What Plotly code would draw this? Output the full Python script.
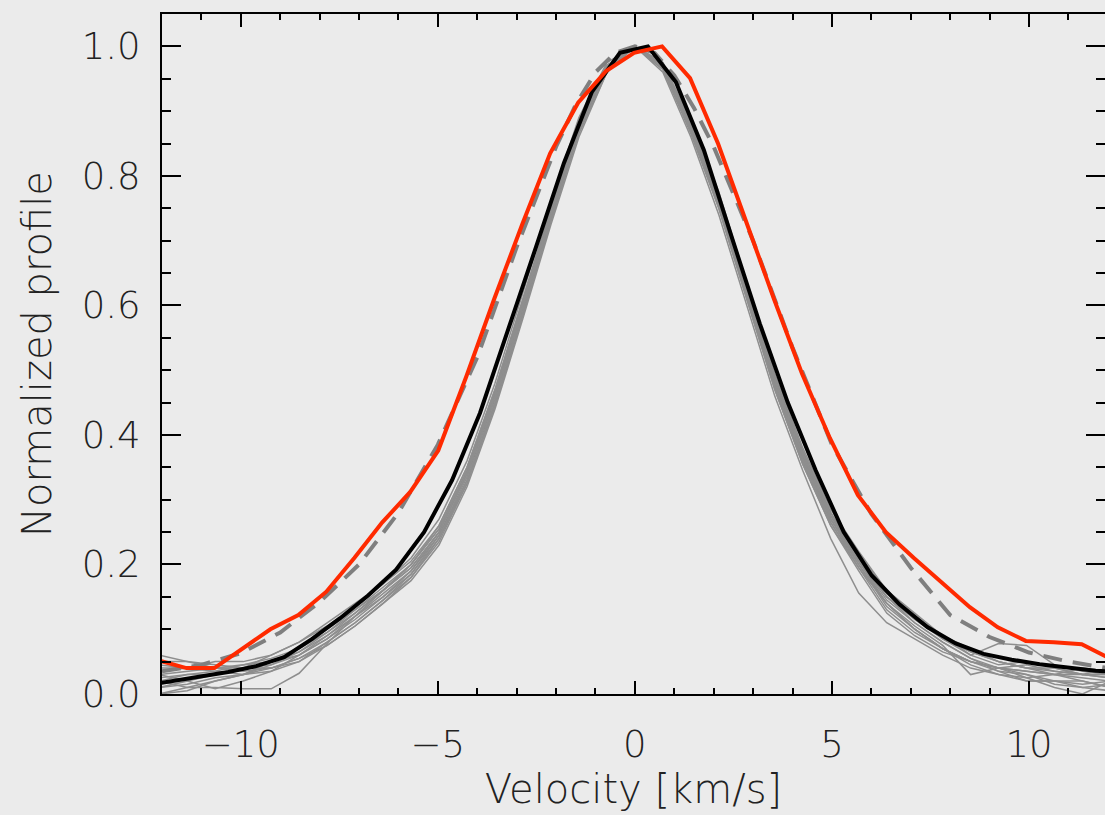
import plotly.graph_objects as go

# ---------------- data ----------------
# gray individual profiles share this velocity grid (km/s)
gray_v = [-12.07, -11.36, -10.65, -9.94, -9.23, -8.52, -7.81, -7.10, -6.39, -5.68,
          -4.97, -4.26, -3.55, -2.84, -2.13, -1.42, -0.71, 0.00, 0.71, 1.42,
          2.13, 2.84, 3.55, 4.26, 4.97, 5.68, 6.39, 7.10, 7.81, 8.52,
          9.23, 9.94, 10.65, 11.36, 12.07]

gray_1 = [0.00, 0.01, 0.02, 0.03, 0.05, 0.07, 0.10, 0.13, 0.16, 0.20, 0.26, 0.35, 0.47, 0.61, 0.75, 0.88, 0.97, 1.0, 0.97, 0.87, 0.75, 0.61, 0.47, 0.355, 0.26, 0.195, 0.14, 0.10, 0.07, 0.05, 0.04, 0.03, 0.02, 0.02, 0.01]
gray_2 = [0.04, 0.04, 0.05, 0.05, 0.06, 0.08, 0.11, 0.14, 0.17, 0.21, 0.27, 0.36, 0.48, 0.62, 0.76, 0.89, 0.975, 1.0, 0.965, 0.87, 0.755, 0.62, 0.49, 0.375, 0.28, 0.21, 0.155, 0.12, 0.09, 0.07, 0.05, 0.04, 0.04, 0.03, 0.03]
gray_3 = [0.02, 0.01, 0.01, 0.008, 0.008, 0.032, 0.078, 0.12, 0.155, 0.19, 0.245, 0.33, 0.45, 0.59, 0.735, 0.87, 0.965, 1.0, 0.97, 0.88, 0.765, 0.625, 0.485, 0.37, 0.275, 0.205, 0.14, 0.10, 0.07, 0.05, 0.035, 0.02, 0.02, 0.015, 0.02]
gray_4 = [0.03, 0.035, 0.04, 0.045, 0.05, 0.065, 0.09, 0.12, 0.15, 0.185, 0.245, 0.335, 0.455, 0.595, 0.74, 0.875, 0.97, 1.0, 0.97, 0.875, 0.76, 0.62, 0.48, 0.365, 0.27, 0.205, 0.15, 0.12, 0.09, 0.06, 0.078, 0.075, 0.045, 0.035, 0.03]
gray_5 = [0.01, 0.02, 0.03, 0.04, 0.04, 0.05, 0.08, 0.11, 0.145, 0.18, 0.24, 0.325, 0.445, 0.585, 0.73, 0.865, 0.96, 1.0, 0.96, 0.86, 0.74, 0.60, 0.46, 0.345, 0.24, 0.156, 0.11, 0.085, 0.06, 0.04, 0.03, 0.02, 0.02, 0.01, 0.015]
gray_6 = [0.05, 0.05, 0.045, 0.04, 0.05, 0.06, 0.085, 0.115, 0.15, 0.19, 0.25, 0.34, 0.46, 0.60, 0.74, 0.875, 0.97, 1.0, 0.975, 0.88, 0.77, 0.63, 0.49, 0.375, 0.28, 0.21, 0.15, 0.11, 0.08, 0.055, 0.04, 0.025, 0.01, 0.0, 0.02]
gray_7 = [0.03, 0.02, 0.008, 0.02, 0.035, 0.06, 0.09, 0.125, 0.16, 0.20, 0.255, 0.345, 0.465, 0.605, 0.745, 0.88, 0.97, 1.0, 0.97, 0.875, 0.76, 0.615, 0.475, 0.36, 0.265, 0.20, 0.14, 0.105, 0.075, 0.03, 0.04, 0.045, 0.035, 0.03, 0.025]
gray_8 = [0.02, 0.03, 0.03, 0.04, 0.06, 0.08, 0.105, 0.135, 0.17, 0.205, 0.26, 0.35, 0.47, 0.61, 0.75, 0.88, 0.97, 1.0, 0.965, 0.865, 0.75, 0.61, 0.47, 0.355, 0.26, 0.19, 0.125, 0.09, 0.065, 0.05, 0.04, 0.035, 0.03, 0.03, 0.025]
gray_9 = [0.06, 0.05, 0.04, 0.035, 0.04, 0.055, 0.08, 0.11, 0.145, 0.185, 0.24, 0.33, 0.45, 0.59, 0.735, 0.87, 0.965, 1.0, 0.97, 0.875, 0.765, 0.625, 0.485, 0.37, 0.275, 0.215, 0.16, 0.125, 0.09, 0.065, 0.05, 0.04, 0.03, 0.02, 0.01]
gray_10 = [0.0, 0.005, 0.02, 0.03, 0.04, 0.055, 0.075, 0.105, 0.14, 0.18, 0.235, 0.325, 0.445, 0.585, 0.73, 0.87, 0.965, 1.0, 0.975, 0.885, 0.775, 0.635, 0.495, 0.38, 0.285, 0.22, 0.16, 0.12, 0.085, 0.06, 0.045, 0.05, 0.04, 0.03, 0.03]
gray_11 = [0.035, 0.04, 0.04, 0.04, 0.045, 0.06, 0.085, 0.12, 0.16, 0.195, 0.25, 0.34, 0.46, 0.60, 0.745, 0.875, 0.97, 1.0, 0.965, 0.87, 0.755, 0.615, 0.475, 0.365, 0.27, 0.20, 0.135, 0.10, 0.07, 0.045, 0.03, 0.025, 0.03, 0.04, 0.035]
gray_12 = [0.01, 0.015, 0.025, 0.03, 0.045, 0.065, 0.095, 0.13, 0.165, 0.20, 0.255, 0.345, 0.465, 0.605, 0.745, 0.88, 0.97, 1.0, 0.97, 0.875, 0.76, 0.62, 0.48, 0.365, 0.27, 0.205, 0.145, 0.11, 0.08, 0.055, 0.035, 0.03, 0.015, 0.01, 0.005]
gray_13 = [0.045, 0.04, 0.035, 0.03, 0.035, 0.05, 0.075, 0.105, 0.14, 0.175, 0.23, 0.32, 0.44, 0.58, 0.725, 0.86, 0.96, 1.0, 0.97, 0.88, 0.765, 0.625, 0.485, 0.37, 0.275, 0.21, 0.15, 0.115, 0.085, 0.065, 0.05, 0.04, 0.035, 0.03, 0.04]
gray_14 = [0.025, 0.03, 0.035, 0.045, 0.055, 0.07, 0.095, 0.125, 0.16, 0.195, 0.25, 0.34, 0.46, 0.60, 0.74, 0.875, 0.97, 1.0, 0.965, 0.87, 0.755, 0.615, 0.475, 0.36, 0.265, 0.195, 0.13, 0.095, 0.07, 0.05, 0.04, 0.035, 0.03, 0.025, 0.02]
gray_profiles = [gray_1, gray_2, gray_3, gray_4, gray_5, gray_6, gray_7,
                 gray_8, gray_9, gray_10, gray_11, gray_12, gray_13, gray_14]

# mean profile (black)
mean_v = [-12.45, -11.74, -11.03, -10.32, -9.61, -8.90, -8.19, -7.48, -6.77, -6.06,
          -5.35, -4.64, -3.93, -3.22, -2.51, -1.80, -1.09, -0.38, 0.33, 1.04,
          1.75, 2.46, 3.17, 3.88, 4.59, 5.30, 6.01, 6.72, 7.43, 8.14,
          8.85, 9.56, 10.27, 10.98, 11.69, 12.40]
mean_p = [0.013, 0.02, 0.027, 0.034, 0.043, 0.057, 0.085, 0.117, 0.152, 0.192,
          0.25, 0.33, 0.434, 0.56, 0.69, 0.82, 0.93, 0.99, 1.0, 0.945,
          0.84, 0.705, 0.572, 0.45, 0.345, 0.25, 0.183, 0.138, 0.103, 0.078,
          0.062, 0.053, 0.046, 0.041, 0.036, 0.033]

# fitted profile (gray dashed)
fit_v = [-12, -11, -10, -9, -8, -7, -6, -5, -4, -3, -2, -1.5, -1, -0.5, 0,
         0.5, 1, 1.5, 2, 3, 4, 5, 6, 7, 8, 9, 10, 11, 12]
fit_p = [0.035, 0.045, 0.063, 0.095, 0.142, 0.2, 0.28, 0.385, 0.52, 0.69, 0.845,
         0.91, 0.96, 0.99, 1.0, 0.99, 0.955, 0.905, 0.845, 0.7, 0.535, 0.385,
         0.278, 0.195, 0.122, 0.088, 0.064, 0.05, 0.04]

# comparison profile (red)
red_v = [-12.09, -11.38, -10.67, -9.96, -9.25, -8.54, -7.83, -7.12, -6.41, -5.70,
         -4.99, -4.28, -3.57, -2.86, -2.15, -1.44, -0.73, -0.02, 0.69, 1.40,
         2.11, 2.82, 3.53, 4.24, 4.95, 5.66, 6.37, 7.08, 7.79, 8.50,
         9.21, 9.92, 10.63, 11.34, 12.05]
red_p = [0.052, 0.04, 0.04, 0.07, 0.1, 0.122, 0.158, 0.21, 0.265, 0.312,
         0.376, 0.49, 0.61, 0.725, 0.835, 0.913, 0.962, 0.99, 1.0, 0.951,
         0.85, 0.73, 0.61, 0.495, 0.395, 0.307, 0.25, 0.21, 0.171, 0.134,
         0.103, 0.082, 0.08, 0.077, 0.055]

x_ticks = [-10, -5, 0, 5, 10]
y_ticks = [0.0, 0.2, 0.4, 0.6, 0.8, 1.0]

# ---------------- figure ----------------
BG = "#ebebeb"
FONT = dict(family="DejaVu Sans", size=37, color="#222222", weight=200)
TFONT = dict(family="DejaVu Sans", size=40, color="#222222", weight=200)

fig = go.Figure()
for prof in gray_profiles:
    fig.add_trace(go.Scatter(x=gray_v, y=prof, mode="lines",
                             line=dict(color="#8e8e8e", width=1.5),
                             showlegend=False, hoverinfo="skip"))
fig.add_trace(go.Scatter(x=fit_v, y=fit_p, mode="lines",
                         line=dict(color="#7f7f7f", width=4, dash="19px,11px"),
                         showlegend=False))
fig.add_trace(go.Scatter(x=mean_v, y=mean_p, mode="lines",
                         line=dict(color="black", width=4),
                         showlegend=False))
fig.add_trace(go.Scatter(x=red_v, y=red_p, mode="lines", yaxis="y2",
                         line=dict(color="#ff2a00", width=4),
                         showlegend=False))

fig.update_layout(
    width=1105, height=815,
    margin=dict(l=162, r=0, t=14, b=121),
    paper_bgcolor=BG, plot_bgcolor=BG,
    font=FONT,
    xaxis=dict(
        range=[-12, 11.93], tickvals=x_ticks, ticks="inside", ticklen=13,
        tickwidth=2, tickcolor="black", showline=True, linecolor="black",
        linewidth=2, mirror="ticks", showgrid=False, zeroline=False,
        minor=dict(dtick=1, tick0=0, ticks="inside", ticklen=6, tickwidth=2,
                   tickcolor="black", showgrid=False),
        tickfont=FONT, ticklabelstandoff=17,
        title=dict(text="Velocity [km/s]", font=TFONT, standoff=6),
    ),
    yaxis=dict(
        range=[0, 1.05], tickvals=y_ticks, tickformat=".1f", ticks="inside",
        ticklen=19, tickwidth=2, tickcolor="black", showline=True,
        linecolor="black", linewidth=2, mirror=False, showgrid=False,
        zeroline=False,
        minor=dict(dtick=0.05, tick0=0, ticks="inside", ticklen=9, tickwidth=2,
                   tickcolor="black", showgrid=False),
        tickfont=FONT, ticklabelstandoff=12,
        title=dict(text="Normalized profile", font=TFONT, standoff=18),
    ),
    yaxis2=dict(
        range=[0, 1.05], overlaying="y", side="right", tickvals=y_ticks,
        ticks="inside", ticklen=19, tickwidth=2, tickcolor="black",
        showline=False, showgrid=False, zeroline=False, showticklabels=False,
        minor=dict(dtick=0.05, tick0=0, ticks="inside", ticklen=9, tickwidth=2,
                   tickcolor="black", showgrid=False),
    ),
)

fig.write_html("out.html")
